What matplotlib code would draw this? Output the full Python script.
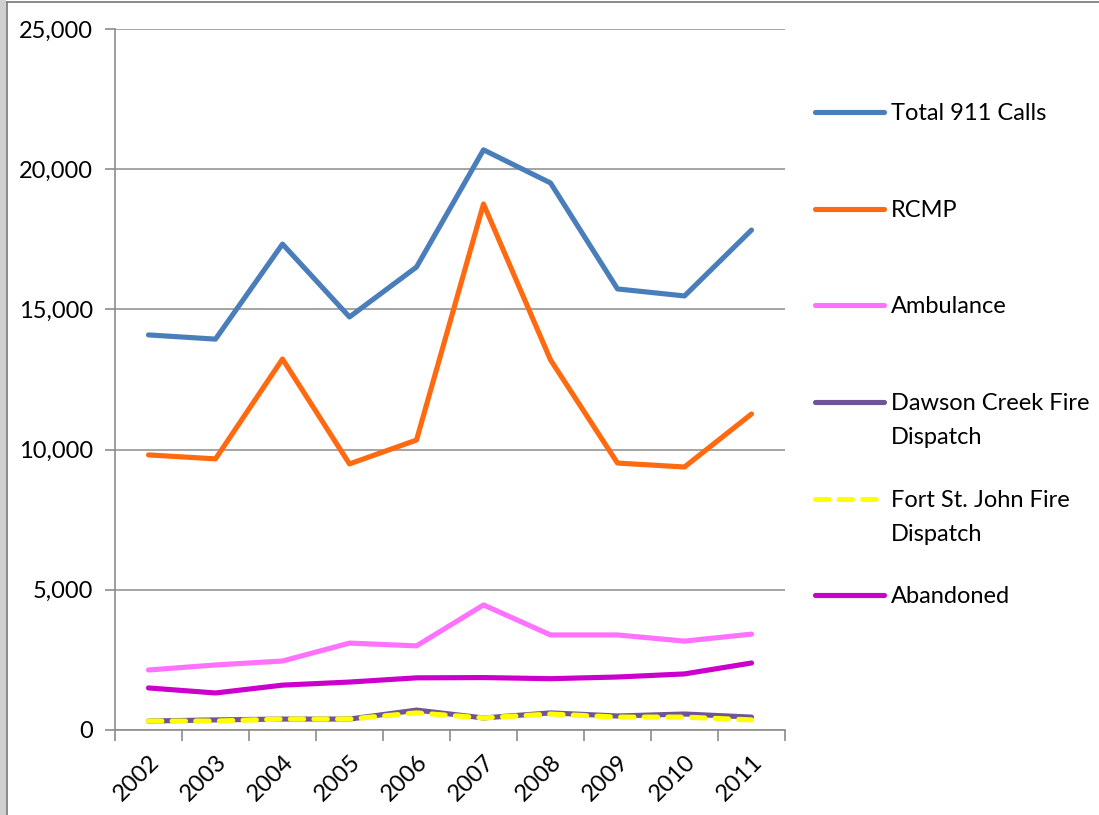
import matplotlib
matplotlib.use("Agg")
import matplotlib.pyplot as plt
from matplotlib.lines import Line2D
from matplotlib.patches import Rectangle
from matplotlib.ticker import FuncFormatter, FixedLocator

years = ["2002", "2003", "2004", "2005", "2006", "2007", "2008", "2009", "2010", "2011"]
total_911 = [14090, 13940, 17330, 14730, 16510, 20690, 19510, 15730, 15480, 17830]
rcmp = [9810, 9670, 13230, 9490, 10340, 18760, 13200, 9520, 9380, 11270]
ambulance = [2140, 2320, 2460, 3100, 3000, 4460, 3390, 3390, 3170, 3420]
dawson_creek = [320, 360, 390, 390, 710, 430, 610, 500, 570, 460]
fort_st_john = [320, 320, 390, 390, 610, 430, 570, 460, 460, 360]
abandoned = [1500, 1320, 1600, 1710, 1860, 1870, 1830, 1890, 2000, 2390]

series = [
    ("Total 911 Calls", total_911, "#4a7ebb", "-"),
    ("RCMP", rcmp, "#ff6a10", "-"),
    ("Ambulance", ambulance, "#ff72ff", "-"),
    ("Dawson Creek Fire\nDispatch", dawson_creek, "#6f5597", "-"),
    ("Fort St. John Fire\nDispatch", fort_st_john, "#ffff00", "--"),
    ("Abandoned", abandoned, "#cc00cc", "-"),
]

W, H = 1099, 815
LW = 3.7
fig = plt.figure(figsize=(W / 100, H / 100), dpi=100)
plt.rcParams['font.family'] = ['Lato', 'DejaVu Sans']

ax = fig.add_axes([115 / W, 1 - 730 / H, (785 - 115) / W, (730 - 29) / H])
x = list(range(len(years)))
draw_order = [0, 1, 2, 5, 3, 4]
for i in draw_order:
    label, vals, color, ls = series[i]
    kw = dict(color=color, lw=LW, solid_capstyle="round", dash_capstyle="round", zorder=3 + i)
    if ls == "--":
        kw.update(dashes=(2.6, 2.0))
    ax.plot(x, vals, linestyle=ls, **kw)

ax.set_xlim(-0.5, len(years) - 0.5)
ax.set_ylim(0, 25000)
ax.set_yticks([0, 5000, 10000, 15000, 20000, 25000])
ax.yaxis.set_major_formatter(FuncFormatter(lambda v, p: f"{int(v):,}"))
ax.yaxis.grid(True, color="#8c8c8c", lw=1.1)
ax.set_axisbelow(True)

ax.set_xticks(x)
ax.set_xticklabels(years, rotation=45, ha="right", rotation_mode="anchor", fontsize=17)
ax.tick_params(axis="x", which="major", length=0, pad=15)
ax.xaxis.set_minor_locator(FixedLocator([v - 0.5 for v in range(len(years) + 1)]))
ax.tick_params(axis="x", which="minor", length=8, width=1.2, color="#8c8c8c")
ax.tick_params(axis="y", length=7, width=1.2, color="#8c8c8c", labelsize=17, pad=9)
for s in ["top", "right"]:
    ax.spines[s].set_visible(False)
for s in ["left", "bottom"]:
    ax.spines[s].set_color("#8c8c8c")
    ax.spines[s].set_linewidth(1.2)

# legend drawn manually in figure pixel coordinates
legend_y = [112, 209, 305, 402, 499, 595]
for (label, vals, color, ls), yy in zip(series, legend_y):
    yf = 1 - yy / H
    ln = Line2D([815 / W, 884 / W], [yf, yf], transform=fig.transFigure, color=color,
                lw=LW, solid_capstyle="round", dash_capstyle="round")
    if ls == "--":
        ln.set_dashes((2.6, 2.0))
    fig.add_artist(ln)
    fig.text(891 / W, yf + 9 / H, label, ha="left", va="top", fontsize=17,
             linespacing=1.75, color="black")

# chart frame with left shadow
fig.add_artist(Rectangle((0, 0), 6 / W, 1, transform=fig.transFigure, color="#d0d0d0", lw=0))
fig.add_artist(Line2D([7 / W, 7 / W], [0, 1 - 2 / H], transform=fig.transFigure, color="#808080", lw=1.3))
fig.add_artist(Line2D([7 / W, 1], [1 - 2 / H, 1 - 2 / H], transform=fig.transFigure, color="#808080", lw=1.3))

fig.savefig("out.png", dpi=100)
